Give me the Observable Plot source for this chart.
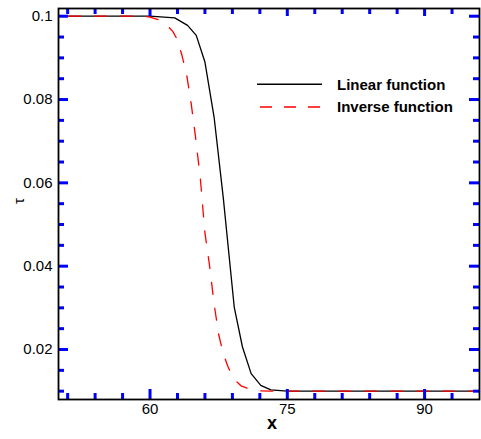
<!DOCTYPE html>
<html><head><meta charset="utf-8">
<script src="https://cdn.jsdelivr.net/npm/d3@7"></script>
<script src="https://cdn.jsdelivr.net/npm/@observablehq/plot@0.6"></script>
<style>
body{margin:0;background:#fff;}
#wrap{position:relative;width:481px;height:439px;}
#wrap svg{display:block;font-family:'Liberation Sans',Arial,sans-serif;}
</style>
</head><body><div id="wrap"></div>
<script>
// Series: Linear function (black solid)
const linearX = [50, 60, 62.7, 64.1, 65.05, 66.0, 67.0, 68.0, 69.2, 70.1, 71.05, 72.1, 73.2, 75, 96];
const linearY = [0.1, 0.1, 0.0996, 0.0978, 0.0954, 0.089, 0.0758, 0.0565, 0.0302, 0.0206, 0.0142, 0.0114, 0.0103, 0.01, 0.01];
// Series: Inverse function (red dashed)
const inverseX = [50, 59, 60, 61, 62, 62.5, 63, 63.5, 64, 64.5, 65, 65.5, 66, 66.5, 67, 67.5, 68, 68.5, 69, 69.5, 70, 71, 72, 73, 96];
const inverseY = [0.1, 0.1, 0.0998, 0.0991, 0.0975, 0.0963, 0.0943, 0.0905, 0.086, 0.079, 0.0705, 0.061, 0.048, 0.0402, 0.031, 0.0236, 0.019, 0.016, 0.0136, 0.0122, 0.0112, 0.0104, 0.0101, 0.01, 0.01];
const seriesNames = ["Linear function", "Inverse function"];

// Ticks
const xMajor = [60, 75, 90];
const xTickLabels = ["60", "75", "90"];
const xMinor = [51, 54, 57, 63, 66, 69, 72, 78, 81, 84, 87, 93];
const yMajor = [0.02, 0.04, 0.06, 0.08, 0.1];
const yTickLabels = ["0.02", "0.04", "0.06", "0.08", "0.1"];
const yMinor = [0.01, 0.015, 0.025, 0.03, 0.035, 0.045, 0.05, 0.055, 0.065, 0.07, 0.075, 0.085, 0.09, 0.095];
const xTitle = "x";
const yTitle = "τ";

const linear = linearX.map((x, i) => ({x, y: linearY[i]}));
const inverse = inverseX.map((x, i) => ({x, y: inverseY[i]}));

const W = 481, H = 439, ML = 58, MR = 2, MT = 8, MB = 40;
const FW = W - ML - MR, FH = H - MT - MB;
const FONT = "'Liberation Sans', Arial, sans-serif";
const tk = {stroke: "#0000ff", strokeWidth: 3};
const leftTicks = (data, len) => Plot.tickY(data, {y: d => d, insetRight: FW - len, ...tk});
const rightTicks = (data, len) => Plot.tickY(data, {y: d => d, insetLeft: FW - len, ...tk});
const bottomTicks = (data, len) => Plot.tickX(data, {x: d => d, insetTop: FH - len, ...tk});
const topTicks = (data, len) => Plot.tickX(data, {x: d => d, insetBottom: FH - len, ...tk});

const chart = Plot.plot({
  width: W,
  height: H,
  marginLeft: ML,
  marginRight: MR,
  marginTop: MT,
  marginBottom: MB,
  x: {domain: [50, 96]},
  y: {domain: [0.008, 0.10185]},
  marks: [
    Plot.line(linear, {x: "x", y: "y", stroke: "black", strokeWidth: 1.3}),
    Plot.line(inverse, {x: "x", y: "y", stroke: "#f00", strokeWidth: 1.3, strokeDasharray: "12,14", strokeDashoffset: 16}),
    leftTicks(yMajor, 10),
    leftTicks(yMinor, 6),
    rightTicks(yMajor, 10),
    rightTicks(yMinor, 6),
    bottomTicks(xMajor, 10),
    bottomTicks(xMinor, 6),
    topTicks(xMajor, 8),
    topTicks(xMinor, 6),
    Plot.axisY({anchor: "left", ticks: yMajor, tickSize: 0, tickPadding: 6, label: null, fontSize: 15, fontFamily: FONT, fill: "black",
      tickFormat: d => yTickLabels[yMajor.indexOf(d)]}),
    Plot.axisX({anchor: "bottom", ticks: xMajor, tickSize: 0, tickPadding: 4, label: null, fontSize: 15, fontFamily: FONT, fill: "black",
      tickFormat: d => xTickLabels[xMajor.indexOf(d)]}),
    Plot.frame({stroke: "black", strokeWidth: 1.8}),
    Plot.text([xTitle], {text: d => d, frameAnchor: "bottom", dy: 29, dx: 3, fontSize: 18, fontWeight: "bold", fontFamily: FONT, fill: "black"}),
    Plot.text([yTitle], {text: d => d, frameAnchor: "left", dx: -39.5, rotate: -90, fontSize: 15, fontFamily: FONT, fill: "black"})
  ]
});

const wrap = document.getElementById("wrap");
wrap.appendChild(chart);

const legend = d3.select(wrap).append("svg")
  .attr("width", W).attr("height", H)
  .style("position", "absolute").style("left", "0px").style("top", "0px")
  .style("pointer-events", "none");
const legendStyles = [
  {stroke: "black", dash: null, offset: 0},
  {stroke: "#f00", dash: "12,12", offset: 21}
];
seriesNames.forEach((name, i) => {
  const cy = 84.3 + i * 22.6;
  const l = legend.append("line")
    .attr("x1", 257).attr("x2", 322).attr("y1", cy).attr("y2", cy)
    .attr("stroke", legendStyles[i].stroke).attr("stroke-width", 1.5);
  if (legendStyles[i].dash) l.attr("stroke-dasharray", legendStyles[i].dash).attr("stroke-dashoffset", legendStyles[i].offset);
  legend.append("text")
    .attr("x", 337).attr("y", cy + 5.5)
    .attr("font-size", 15).attr("font-weight", "bold").attr("fill", "black")
    .attr("font-family", FONT)
    .text(name);
});
</script>
</body></html>
